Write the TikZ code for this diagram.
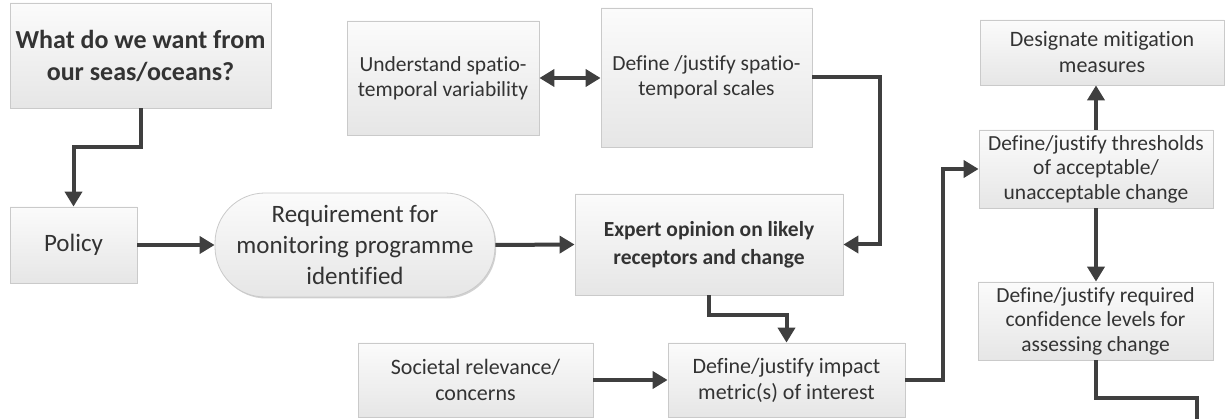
\documentclass[tikz,border=0pt]{standalone}
\usepackage{fontspec}
\setmainfont{Carlito}[Ligatures=NoCommon]
\usetikzlibrary{arrows.meta,shadows}
\definecolor{txt}{HTML}{333333}
\definecolor{ln}{HTML}{3F3F3F}
\definecolor{bd}{HTML}{CACACA}
\definecolor{ftop}{HTML}{FBFBFB}
\definecolor{fbot}{HTML}{E6E6E6}
\tikzset{
  box/.style={draw=bd, line width=0.8pt, top color=ftop, bottom color=fbot,
    inner sep=0pt, align=center, text=txt,
    drop shadow={shadow xshift=1.2pt, shadow yshift=-1.5pt, opacity=0.18, fill=black},
    font=\fontsize{22}{26}\selectfont},
  arr/.style={draw=ln, line width=4pt, -{Triangle[length=15pt,width=17pt]}},
  darr/.style={draw=ln, line width=4pt, {Triangle[length=15pt,width=17pt]}-{Triangle[length=15pt,width=17pt]}},
  plain/.style={draw=ln, line width=4pt}
}
\begin{document}
\begin{tikzpicture}[x=1pt,y=-1pt]
\useasboundingbox (0,0) rectangle (1227,419);
\node[box, minimum width=261pt, minimum height=105pt, font=\fontsize{26}{32}\selectfont\bfseries] (what) at (140.5,55.5) {What do we want from\\our seas/oceans?};
\node[box, minimum width=127pt, minimum height=76pt, font=\fontsize{25}{31}\selectfont] (policy) at (73.5,245) {Policy};
\node[box, minimum width=280pt, minimum height=104pt, rounded corners=50pt, font=\fontsize{25}{31}\selectfont] (req) at (355,245) {Requirement for\\monitoring programme\\identified};
\node[box, minimum width=268pt, minimum height=101pt, font=\fontsize{21.5}{28}\selectfont\bfseries] (expert) at (709,244.5) {Expert opinion on likely\\receptors and change};
\node[box, minimum width=192pt, minimum height=114pt, font=\fontsize{21.5}{25}\selectfont] (und) at (443,78) {Understand spatio-\\temporal variability};
\node[box, minimum width=211pt, minimum height=139pt, font=\fontsize{21.5}{25}\selectfont] (spat) at (706.5,77.5) {Define /justify spatio-\\temporal scales};
\node[box, minimum width=235pt, minimum height=74pt] (soc) at (475.5,380) {Societal relevance/\\concerns};
\node[box, minimum width=237pt, minimum height=74pt] (imp) at (786.5,380) {Define/justify impact\\metric(s) of interest};
\node[box, minimum width=244pt, minimum height=65pt] (desig) at (1102,52.5) {Designate mitigation\\measures};
\node[box, minimum width=234pt, minimum height=78pt, font=\fontsize{21.5}{24.5}\selectfont] (thr) at (1096,169) {Define/justify thresholds\\of acceptable/\\unacceptable change};
\node[box, minimum width=235pt, minimum height=78pt, font=\fontsize{21.5}{24.5}\selectfont] (conf) at (1095.5,321) {Define/justify required\\confidence levels for\\assessing change};
\coordinate (end) at (1197,419);

\draw[arr] (what.south) -- ++(0,39) -| (policy.north);
\draw[arr] (policy.east) -- (req.west);
\draw[arr] (req.east) -- (expert.west);
\draw[darr] (und.east) -- (und.east -| spat.west);
\draw[arr] (spat.east) -- ++(68,0) |- (expert.east);
\draw[arr] (expert.south) -- ++(0,20) -| (imp.north);
\draw[arr] (soc.east) -- (imp.west);
\draw[arr] (imp.east) -- ++(38,0) |- (thr.west);
\draw[arr] (thr.north) -- (thr.north |- desig.south);
\draw[arr] (thr.south) -- (thr.south |- conf.north);
\draw[plain] (conf.south) -- ++(0,38) -| (end);
\end{tikzpicture}
\end{document}
